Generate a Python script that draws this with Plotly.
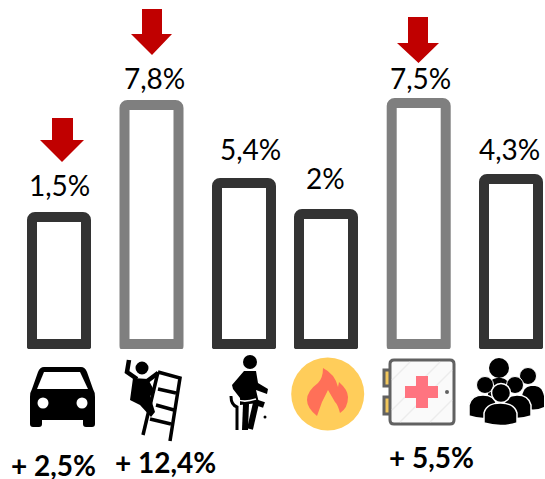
import plotly.graph_objs as go

# Chart data
categories = ["Car", "Ladder", "Walking", "Fire", "First aid", "People"]
value_labels = ["1,5%", "7,8%", "5,4%", "2%", "7,5%", "4,3%"]
bar_heights = [127, 239, 161, 130, 241, 165]  # read off the picture, not to scale with the labels
bar_colors = ["#333333", "#7f7f7f", "#333333", "#333333", "#7f7f7f", "#333333"]
change_labels = ["+ 2,5%", "+ 12,4%", "+ 5,5%"]

# Layout helpers, in page pixels
bar_centers = [59, 151.5, 244, 326, 418.7, 511]
label_x = [59, 154, 250, 325, 420, 509]
label_y = [185, 78, 149, 178, 78, 149]
change_x = [53, 165.5, 431]
change_y = [465, 462, 457]
arrows = [(52, 73, 118, 140, 40, 84, 62, 162),
          (142, 162, 9, 34, 131, 172, 152, 55),
          (408, 428, 17, 43, 397, 439, 418.5, 63)]

BASELINE = 344
BLACK = "#000000"
shapes = []


def add_path(path, fill=BLACK, line=None, width=0):
    shapes.append(dict(type="path", path=path, xref="x", yref="y2", fillcolor=fill,
                       line=dict(color=line or fill, width=width)))


def add_stroke(path, color=BLACK, width=5):
    shapes.append(dict(type="path", path=path, xref="x", yref="y2",
                       line=dict(color=color, width=width)))


def add_circle(cx, cy, r, fill=BLACK, line=None, width=0):
    shapes.append(dict(type="circle", xref="x", yref="y2", x0=cx - r, x1=cx + r, y0=cy - r, y1=cy + r,
                       fillcolor=fill, line=dict(color=line or fill, width=width)))


def add_rect(x0, y0, x1, y1, fill, line=None, width=0):
    shapes.append(dict(type="rect", xref="x", yref="y2", x0=x0, x1=x1, y0=y0, y1=y1,
                       fillcolor=fill, line=dict(color=line or fill, width=width)))


def body_path(x0, x1, top, bottom):
    mid = (x0 + x1) / 2
    return (f"M {x0},{bottom} L {x0},{top + 10} C {x0 + 2},{top + 2} {mid - 6},{top} {mid},{top} "
            f"C {mid + 6},{top} {x1 - 2},{top + 2} {x1},{top + 10} L {x1},{bottom} "
            f"Q {mid},{bottom + 5} {x0},{bottom} Z")


# Plotly only rounds the top of a bar, so trim the two bottom corners
for cx in bar_centers:
    left, right, low = cx - 32.5, cx + 32.5, BASELINE + 5.5
    add_path(f"M {left},{low - 4} Q {left},{low} {left + 4},{low} L {left - 1},{low + 1} Z", fill="#ffffff")
    add_path(f"M {right},{low - 4} Q {right},{low} {right - 4},{low} L {right + 1},{low + 1} Z", fill="#ffffff")

# Red arrows
for sx0, sx1, top, shoulder, hx0, hx1, tipx, tipy in arrows:
    add_path(f"M {sx0},{top} L {sx1},{top} L {sx1},{shoulder} L {hx1},{shoulder} "
             f"L {tipx},{tipy} L {hx0},{shoulder} L {sx0},{shoulder} Z", fill="#c00000")

# Car
add_path("M 44,367 L 81,367 Q 85,367 87,372 L 93,389 Q 95,392 95,397 L 95,424 Q 95,427 92,427 L 86,427 "
         "Q 83,427 83,424 L 83,420 L 42,420 L 42,424 Q 42,427 39,427 L 33,427 Q 30,427 30,424 L 30,397 "
         "Q 30,392 32,389 L 38,372 Q 40,367 44,367 Z")
add_path("M 44,372 L 80,372 L 88,389 L 37,389 Z", fill="#ffffff")
add_circle(43, 403, 5.5, fill="#ffffff")
add_circle(82, 403, 5.5, fill="#ffffff")

# Person falling off a ladder
add_stroke("M 158,372 L 143,435", width=3.5)
add_stroke("M 158,372 L 180,378 L 170,441", width=3.5)
add_stroke("M 158,389 L 176,393", width=3.5)
add_stroke("M 156,405 L 174,410", width=3.5)
add_stroke("M 150,419 L 171,424", width=3.5)
add_circle(142, 368, 6.5)
add_stroke("M 129,360 L 127,372 L 137,379", width=4.5)
add_stroke("M 146,382 L 158,373", width=4.5)
add_path("M 133,378 L 148,379 L 155,392 L 150,396 L 155,412 L 151,417 L 140,405 L 130,400 Z")

# Person walking with a stick
add_circle(250, 362, 7)
add_path("M 244,371 L 256,371 L 258,383 L 268,389 L 267,394 L 256,390 L 259,403 L 240,405 L 240,398 L 233,389 "
         "L 232,385 Z")
add_stroke("M 246,404 L 245,430", width=6)
add_stroke("M 256,403 L 250,429", width=6)
add_stroke("M 255,402 L 264,405", width=6)
add_stroke("M 231,396 Q 231,405 237,407 L 237,430", width=3)
add_stroke("M 232,394 Q 238,405 256,399", color="#ffffff", width=1.5)
add_circle(265, 417, 1.5)

# Fire badge
add_circle(327.7, 394, 36.5, fill="#ffcd5a")
add_path("M 317,416 Q 307,408 307,400 Q 307,391 318,383 Q 323,378 323,368 Q 335,374 338,387 L 339,382 "
         "Q 348,390 348,397 Q 348,408 340,413 Q 338,405 335,402 L 328,390 L 322,402 Z", fill="#ff7058")

# First aid box
for y0, y1 in [(370, 386), (397, 414)]:
    add_rect(384, y0, 391, y1, "#f2c75c", line="#616161", width=3)
add_path("M 394,360 L 450,360 Q 454,360 454,364 L 454,420 Q 454,424 450,424 L 394,424 Q 390,424 390,420 "
         "L 390,364 Q 390,360 394,360 Z", fill="#fafafa", line="#616161", width=3)
for x0, y0, x1, y1 in [(392, 380, 410, 362), (392, 410, 440, 362), (400, 422, 452, 370), (430, 422, 452, 400)]:
    add_stroke(f"M {x0},{y0} L {x1},{y1}", color="#ececec", width=1.5)
add_path("M 416,376 L 428,376 L 428,386 L 438,386 L 438,398 L 428,398 L 428,408 L 416,408 L 416,398 "
         "L 405,398 L 405,386 L 416,386 Z", fill="#ff7480")
add_circle(447, 392, 2, fill="#616161")

# Group of people, back to front
add_circle(499, 368, 10)
add_path(body_path(488, 510, 378, 398))
add_circle(528, 376, 8.5, line="#ffffff", width=1)
add_path(body_path(522, 544, 386, 407))
add_circle(485, 385, 8.5, line="#ffffff", width=1)
add_path(body_path(469, 497, 395, 416), line="#ffffff", width=1.5)
add_circle(515, 385, 8.5, line="#ffffff", width=1)
add_path(body_path(503, 531, 395, 416), line="#ffffff", width=1.5)
add_circle(501, 393, 9.5, line="#ffffff", width=1.5)
add_path(body_path(484, 517, 403, 423), line="#ffffff", width=1.5)

fig = go.Figure()
fig.add_trace(go.Bar(
    x=bar_centers,
    y=bar_heights,
    width=54,
    customdata=categories,
    hovertemplate="%{customdata}<extra></extra>",
    marker=dict(color="#ffffff", line=dict(color=bar_colors, width=10)),
))
# empty trace keeps the pixel overlay axis alive
fig.add_trace(go.Scatter(x=[None], y=[None], yaxis="y2", showlegend=False))

annotations = []
for text, x, y in zip(value_labels, label_x, label_y):
    annotations.append(dict(text=text, x=x, y=y, xref="x", yref="y2", showarrow=False,
                            font=dict(family="Lato", size=28, color="#000000")))
for text, x, y in zip(change_labels, change_x, change_y):
    annotations.append(dict(text=f"<b>{text}</b>", x=x, y=y, xref="x", yref="y2", showarrow=False,
                            font=dict(family="Lato", size=28, color="#000000")))

fig.update_layout(
    width=545,
    height=479,
    margin=dict(l=0, r=0, t=0, b=0),
    paper_bgcolor="#ffffff",
    plot_bgcolor="#ffffff",
    showlegend=False,
    barcornerradius=3,
    xaxis=dict(range=[0, 545], visible=False, fixedrange=True),
    yaxis=dict(range=[BASELINE - 479, BASELINE], visible=False, fixedrange=True),
    yaxis2=dict(range=[479, 0], visible=False, overlaying="y", fixedrange=True),
    shapes=shapes,
    annotations=annotations,
)

# drop the default page margin so the figure fills the window
fig.write_html("out.html", config=dict(displayModeBar=False),
               post_script="document.body.style.margin='0';document.documentElement.style.overflow='hidden';")
